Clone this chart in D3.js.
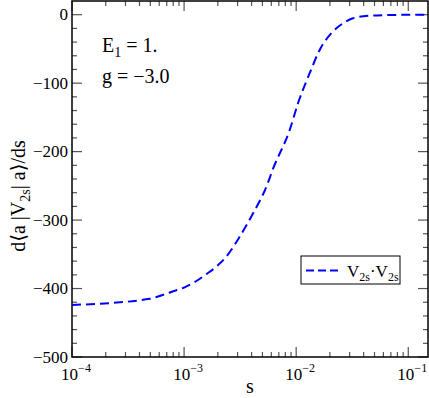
<!DOCTYPE html>
<html>
<head>
<meta charset="utf-8">
<script src="https://cdn.jsdelivr.net/npm/d3@7"></script>
<style>
  body { margin: 0; background: #fff; }
  svg text { fill: #000; }
</style>
</head>
<body>
<div id="chart"></div>
<script>
// curve data
const sValues = [1e-4, 4.96e-4, 6.53e-4, 8.0e-4, 1.02e-3, 1.29e-3, 1.58e-3, 1.94e-3, 2.39e-3,
  3.14e-3, 4.13e-3, 5.43e-3, 6.22e-3, 8.77e-3, 1.04e-2, 1.32e-2, 1.62e-2, 2.06e-2,
  2.62e-2, 3.21e-2, 4.53e-2, 7e-2, 0.15];
const dValues = [-424, -415, -409, -404, -398, -389, -379, -368, -353,
  -324, -290, -251, -225, -168, -129, -85.5, -51.5, -27,
  -12.6, -5.3, -1.5, -0.4, 0];
const yTicks = [0, -100, -200, -300, -400, -500];
const xTickExps = [-4, -3, -2, -1];
const legendLabel = "V2s·V2s";

const width = 429;
const height = 398;
const pLeft = 72, pRight = 428, pTop = 1, pBottom = 357;
const serif = "'Liberation Serif', 'Times New Roman', Times, 'DejaVu Serif', serif";

const svg = d3.select("#chart").append("svg")
  .attr("width", width).attr("height", height)
  .style("font-family", serif);

const x = d3.scaleLog().domain([1e-4, 0.15]).range([pLeft, pRight]);
const y = d3.scaleLinear().domain([-500, 20]).range([pBottom, pTop]);

// minor/major tick positions
const xMinor = [];
for (let e = -4; e <= -1; e++) {
  for (let k = 2; k <= 9; k++) {
    const v = k * Math.pow(10, e);
    if (v < 0.15) xMinor.push(v);
  }
}
const xMajor = xTickExps.map((e) => Math.pow(10, e));
const yMinor = d3.range(-480, 20, 20).filter((v) => v % 100 !== 0);

const tickColor = "#555";
const ticks = svg.append("g").attr("stroke", tickColor).attr("stroke-width", 1.2);

// bottom + top ticks
[[xMinor, 5], [xMajor, 10]].forEach(([vals, len]) => {
  vals.forEach((v) => {
    ticks.append("line").attr("x1", x(v)).attr("x2", x(v)).attr("y1", pBottom).attr("y2", pBottom - len);
    ticks.append("line").attr("x1", x(v)).attr("x2", x(v)).attr("y1", pTop).attr("y2", pTop + len);
  });
});
// left + right ticks
[[yMinor, 5], [yTicks, 10]].forEach(([vals, len]) => {
  vals.forEach((v) => {
    ticks.append("line").attr("y1", y(v)).attr("y2", y(v)).attr("x1", pLeft).attr("x2", pLeft + len);
    ticks.append("line").attr("y1", y(v)).attr("y2", y(v)).attr("x1", pRight).attr("x2", pRight - len);
  });
});

// frame
svg.append("rect")
  .attr("x", pLeft).attr("y", pTop)
  .attr("width", pRight - pLeft).attr("height", pBottom - pTop)
  .attr("fill", "none").attr("stroke", "#000").attr("stroke-width", 1.5);

// y tick labels
svg.append("g").selectAll("text").data(yTicks).enter().append("text")
  .attr("x", pLeft - 4)
  .attr("y", (d) => y(d))
  .attr("dy", "0.33em")
  .attr("text-anchor", "end")
  .style("font-family", serif)
  .style("font-size", "17px")
  .text((d) => (d < 0 ? "\u2212" + Math.abs(d) : d));

// x tick labels 10^e
const xl = svg.append("g").selectAll("text").data(xTickExps).enter().append("text")
  .attr("x", (d) => x(Math.pow(10, d)) + 4)
  .attr("y", 380)
  .attr("text-anchor", "middle")
  .style("font-family", serif)
  .style("font-size", "17px");
xl.append("tspan").text("10");
xl.append("tspan").attr("dy", -8).style("font-size", "12px").text((d) => "\u2212" + Math.abs(d));

// axis titles
svg.append("text")
  .attr("x", 250).attr("y", 393)
  .attr("text-anchor", "middle")
  .style("font-family", serif)
  .style("font-size", "20px")
  .text("s");

const yl = svg.append("text")
  .attr("transform", `translate(25, 196) rotate(-90)`)
  .attr("text-anchor", "middle")
  .style("font-family", serif)
  .style("font-size", "20px");
yl.append("tspan").text("d\u27E8a |V");
yl.append("tspan").attr("dy", 5).style("font-size", "14px").text("2s");
yl.append("tspan").attr("dy", -5).text("| a\u27E9/ds");

// annotation
const ann = svg.append("g").style("font-family", serif).style("font-size", "20px");
const e1 = ann.append("text").attr("x", 102).attr("y", 52);
e1.append("tspan").text("E");
e1.append("tspan").attr("dy", 5).style("font-size", "14px").text("1");
e1.append("tspan").attr("dy", -5).text(" = 1.");
ann.append("text").attr("x", 102).attr("y", 83).text("g = \u22123.0");

// curve
const line = d3.line()
  .x((d, i) => x(sValues[i]))
  .y((d) => y(d))
  .curve(d3.curveMonotoneX);

svg.append("path")
  .datum(dValues)
  .attr("fill", "none")
  .attr("stroke", "#0000ff")
  .attr("stroke-width", 2)
  .attr("stroke-dasharray", "9,5")
  .attr("d", line);

// legend
const lg = svg.append("g");
lg.append("rect")
  .attr("x", 301).attr("y", 256).attr("width", 99).attr("height", 28)
  .attr("fill", "#fff").attr("stroke", "#000").attr("stroke-width", 1);
lg.append("line")
  .attr("x1", 306).attr("x2", 338).attr("y1", 270.5).attr("y2", 270.5)
  .attr("stroke", "#0000ff").attr("stroke-width", 2).attr("stroke-dasharray", "8,4");
const lt = lg.append("text").attr("x", 347).attr("y", 277)
  .style("font-family", serif).style("font-size", "17px");
const parts = legendLabel.split("·");
lt.append("tspan").text(parts[0].slice(0, 1));
lt.append("tspan").attr("dy", 4).style("font-size", "12px").text(parts[0].slice(1));
lt.append("tspan").attr("dy", -4).text("·" + parts[1].slice(0, 1));
lt.append("tspan").attr("dy", 4).style("font-size", "12px").text(parts[1].slice(1));
</script>
</body>
</html>
